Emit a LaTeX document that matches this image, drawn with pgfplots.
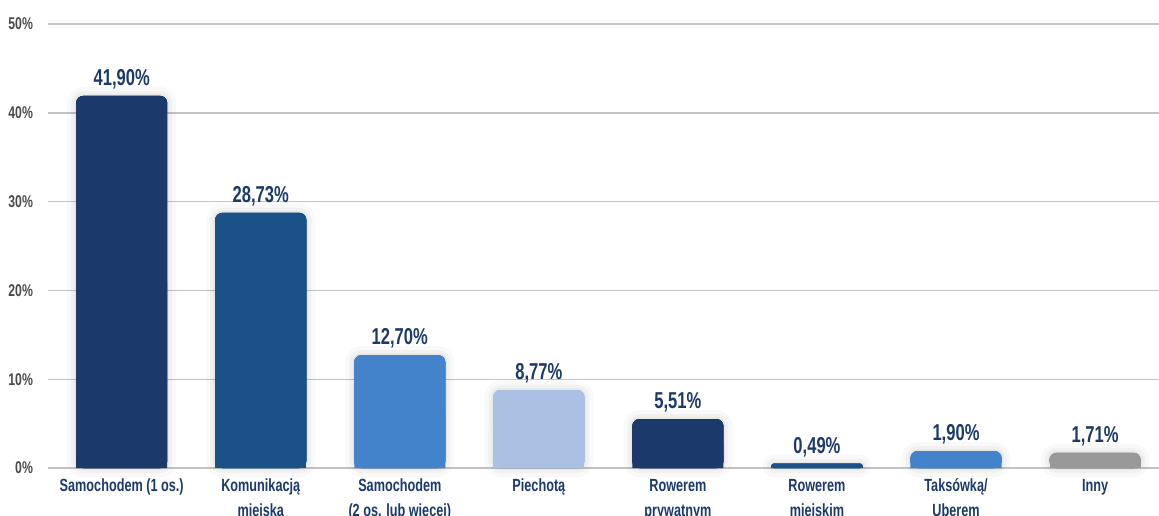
\documentclass[border=0pt]{standalone}
\usepackage{fontspec}
\setmainfont{Liberation Sans}[FakeStretch=0.72]
\usepackage{pgfplots}
\usepackage{pgfplotstable}
\pgfplotsset{compat=1.18}
\definecolor{cnavy}{HTML}{1B3A6B}
\definecolor{cmid}{HTML}{1A5189}
\definecolor{cblue}{HTML}{4383CC}
\definecolor{cpale}{HTML}{AAC1E3}
\definecolor{cgray}{HTML}{999999}
\definecolor{ctick}{HTML}{4A4A4A}
\definecolor{cgrid}{HTML}{C4C4C4}
\pgfplotstableread{
x v
0 41.90
4 5.51
}\tnavy
\pgfplotstableread{
x v
1 28.73
}\tmid
\pgfplotstableread{
x v
5 0.49
}\tsmall
\pgfplotstableread{
x v
2 12.70
6 1.90
}\tblue
\pgfplotstableread{
x v
3 8.77
}\tpale
\pgfplotstableread{
x v
7 1.71
}\tgray
\begin{document}
\begin{tikzpicture}
\begin{axis}[
  at={(0,0)}, anchor=south west,
  scale only axis, width=555.5pt, height=222pt,
  xmin=-0.53, xmax=7.46,
  ymin=0, ymax=50,
  clip=false,
  ybar, bar width=0.655, bar shift=0pt,
  axis line style={draw=none},
  major tick length=0pt,
  ymajorgrids, grid style={cgrid, line width=0.7pt},
  ytick={0,10,20,30,40,50},
  yticklabels={0\%,10\%,20\%,30\%,40\%,50\%},
  yticklabel style={text=ctick, font=\fontsize{8.5}{9}\selectfont\bfseries, xshift=-4pt},
  xtick={0,1,2,3,4,5,6,7},
  xticklabels={Samochodem (1 os.),Komunikacją\\miejska,Samochodem\\(2 os. lub więcej),Piechotą,Rowerem\\prywatnym,Rowerem\\miejskim,Taksówką/\\Uberem,Inny},
  xticklabel style={align=center, text=cnavy, font=\fontsize{8.8}{12.5}\selectfont\bfseries, yshift=-2pt},
  point meta=explicit,
  nodes near coords={\pgfmathprintnumber[fixed,fixed zerofill,precision=2,use comma,assume math mode=true]{\pgfplotspointmeta}\%},
  nodes near coords style={text=cnavy, font=\fontsize{11.5}{12}\selectfont\bfseries, yshift=0pt},
  every axis plot/.append style={draw=none},
  halo/.style={preaction={draw=black, draw opacity=0.025, line width=9pt, line join=round},
               preaction={draw=black, draw opacity=0.03, line width=5pt, line join=round},
               preaction={draw=black, draw opacity=0.035, line width=2pt, line join=round}},
  lower/.style={nodes near coords={}, forget plot},
]
% rounded full-height bars (with value labels)
\addplot[fill=cnavy, rounded corners=3.5pt, halo] table[x=x, y=v, meta=v] {\tnavy};
\addplot[fill=cmid, rounded corners=3.5pt, halo] table[x=x, y=v, meta=v] {\tmid};
\addplot[fill=cmid, rounded corners=1.1pt, halo] table[x=x, y=v, meta=v] {\tsmall};
\addplot[fill=cblue, rounded corners=3.5pt, halo] table[x=x, y=v, meta=v] {\tblue};
\addplot[fill=cpale, rounded corners=3.5pt, halo] table[x=x, y=v, meta=v] {\tpale};
\addplot[fill=cgray, rounded corners=3.5pt, halo] table[x=x, y=v, meta=v] {\tgray};
% square lower halves, so that only the top corners look rounded
\addplot[fill=cnavy, lower] table[x=x, y expr=\thisrow{v}/2, meta=v] {\tnavy};
\addplot[fill=cmid, lower] table[x=x, y expr=\thisrow{v}/2, meta=v] {\tmid};
\addplot[fill=cmid, lower] table[x=x, y expr=\thisrow{v}/2, meta=v] {\tsmall};
\addplot[fill=cblue, lower] table[x=x, y expr=\thisrow{v}/2, meta=v] {\tblue};
\addplot[fill=cpale, lower] table[x=x, y expr=\thisrow{v}/2, meta=v] {\tpale};
\addplot[fill=cgray, lower] table[x=x, y expr=\thisrow{v}/2, meta=v] {\tgray};
\end{axis}
\pgfresetboundingbox
\path[use as bounding box] (-24pt,-23.5pt) rectangle (555.5pt,234pt);
\end{tikzpicture}
\end{document}
